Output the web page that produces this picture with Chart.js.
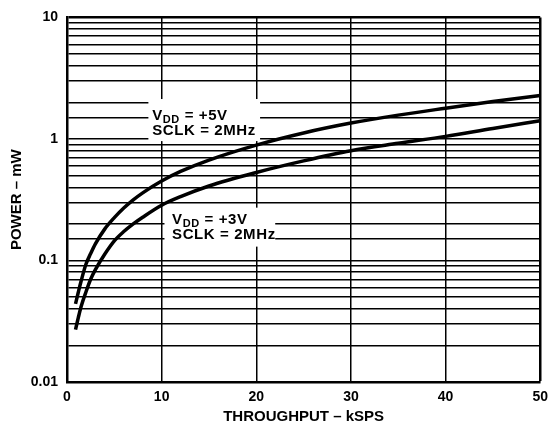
<!DOCTYPE html>
<html>
<head>
<meta charset="utf-8">
<script src="https://cdn.jsdelivr.net/npm/chart.js@4.4.1/dist/chart.umd.min.js"></script>
<style>
    html, body { margin: 0; padding: 0; background: #fff; }
</style>
</head>
<body>
<canvas id="powerChart" width="555" height="426"></canvas>
<script>
// throughput in kSPS, power in mW
const throughput = [0.9, 1.2, 1.5, 2, 2.5, 3, 4, 5, 6, 7, 8, 10, 12, 15, 20, 25, 30, 35, 40, 45, 50];
const power5V = [0.044, 0.055, 0.068, 0.093, 0.114, 0.137, 0.182, 0.225, 0.27, 0.315, 0.36, 0.45, 0.54, 0.67, 0.89, 1.12, 1.35, 1.57, 1.79, 2.03, 2.28];
const power3V = [0.027, 0.034, 0.042, 0.055, 0.07, 0.084, 0.113, 0.145, 0.173, 0.2, 0.227, 0.285, 0.335, 0.41, 0.53, 0.66, 0.8, 0.92, 1.05, 1.22, 1.41];
const yDecades = [0.01, 0.1, 1, 10];

// curve labels, anchored in data units
const notes = [
    { supply: '+5V', clock: '2MHz', x: 9.0, y: 1.44, box: [8.6, 20.4, 2.13, 0.96] },
    { supply: '+3V', clock: '2MHz', x: 11.1, y: 0.199, box: [10.3, 22.0, 0.272, 0.13] }
];

const FONT = '"Liberation Sans", Arial, Helvetica, sans-serif';

function toPoints(xs, ys) {
    return xs.map((x, i) => ({ x: x, y: ys[i] }));
}

const notesPlugin = {
    id: 'notes',
    beforeDatasetsDraw(chart) {
        const ctx = chart.ctx;
        const xs = chart.scales.x, ys = chart.scales.y;
        ctx.save();
        ctx.fillStyle = '#fff';
        notes.forEach(n => {
            const x0 = xs.getPixelForValue(n.box[0]);
            const x1 = xs.getPixelForValue(n.box[1]);
            const y0 = ys.getPixelForValue(n.box[2]);
            const y1 = ys.getPixelForValue(n.box[3]);
            ctx.fillRect(x0, y0, x1 - x0, y1 - y0);
        });
        ctx.restore();
    },
    afterDatasetsDraw(chart) {
        const ctx = chart.ctx;
        const xs = chart.scales.x, ys = chart.scales.y;
        ctx.save();
        ctx.fillStyle = '#000';
        ctx.textBaseline = 'alphabetic';
        ctx.textAlign = 'left';
        ctx.letterSpacing = '0.6px';
        notes.forEach(n => {
            const px = xs.getPixelForValue(n.x);
            const py = ys.getPixelForValue(n.y);
            ctx.font = 'bold 15px ' + FONT;
            ctx.fillText('V', px, py);
            let w = ctx.measureText('V').width;
            ctx.font = 'bold 11px ' + FONT;
            ctx.fillText('DD', px + w, py + 3);
            w += ctx.measureText('DD').width;
            ctx.font = 'bold 15px ' + FONT;
            ctx.fillText(' = ' + n.supply, px + w, py);
            ctx.fillText('SCLK = ' + n.clock, px, py + 15);
        });
        ctx.restore();
    }
};

new Chart(document.getElementById('powerChart'), {
    type: 'line',
    data: {
        datasets: [
            {
                label: 'VDD = +5V',
                data: toPoints(throughput, power5V),
                borderColor: '#000',
                borderWidth: 3.5,
                pointRadius: 0,
                cubicInterpolationMode: 'monotone',
                fill: false
            },
            {
                label: 'VDD = +3V',
                data: toPoints(throughput, power3V),
                borderColor: '#000',
                borderWidth: 3.5,
                pointRadius: 0,
                cubicInterpolationMode: 'monotone',
                fill: false
            }
        ]
    },
    options: {
        responsive: false,
        animation: false,
        layout: { padding: { top: 16, right: 10, left: 0, bottom: 0 } },
        plugins: {
            legend: { display: false },
            tooltip: { enabled: false }
        },
        scales: {
            x: {
                type: 'linear',
                min: 0,
                max: 50,
                ticks: {
                    stepSize: 10,
                    color: '#000',
                    padding: 7,
                    font: { family: FONT, size: 14, weight: 'bold' }
                },
                grid: {
                    color: '#000',
                    lineWidth: c => (c.tick && c.tick.value === 50) ? 2.5 : 1.5,
                    drawTicks: false
                },
                border: { display: true, color: '#000', width: 2.5 },
                title: {
                    display: true,
                    text: 'THROUGHPUT – kSPS',
                    color: '#000',
                    padding: 0,
                    font: { family: FONT, size: 15, weight: 'bold' }
                },
                afterFit: s => { s.height = 44; }
            },
            y: {
                type: 'logarithmic',
                min: 0.01,
                max: 10,
                ticks: {
                    autoSkip: false,
                    color: '#000',
                    padding: 9,
                    font: { family: FONT, size: 14, weight: 'bold' },
                    callback: v => yDecades.some(d => Math.abs(d - v) < d * 1e-6) ? String(v) : ''
                },
                grid: {
                    color: '#000',
                    lineWidth: c => (c.tick && c.tick.value === 10) ? 2.5 : 1.5,
                    drawTicks: false
                },
                border: { display: true, color: '#000', width: 2.5 },
                title: {
                    display: true,
                    text: 'POWER – mW',
                    color: '#000',
                    padding: { top: 8, bottom: 0 },
                    font: { family: FONT, size: 15, weight: 'bold' }
                },
                afterFit: s => { s.width = 67; }
            }
        }
    },
    plugins: [notesPlugin]
});
</script>
</body>
</html>
